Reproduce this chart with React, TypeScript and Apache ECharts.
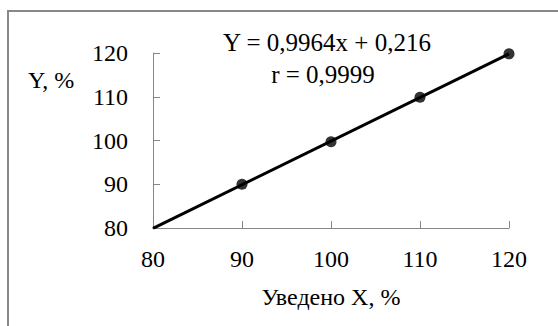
import React, { useEffect, useRef } from "react";
import * as echarts from "echarts";

const xTicks = [80, 90, 100, 110, 120];
const yTicks = [80, 90, 100, 110, 120];
const pointsX = [90, 100, 110, 120];
const pointsY = [90.0, 99.7, 109.9, 119.8];
const trendX = [80, 120];
const trendY = [79.9, 119.8];
const equationText = "Y = 0,9964x + 0,216";
const rText = "r = 0,9999";
const xName = "Уведено X, %";
const yName = "Y, %";

const FONT = "Liberation Serif, Times New Roman, serif";

export default function App() {
  const ref = useRef<HTMLDivElement>(null);
  useEffect(() => {
    if (!ref.current) return;
    const chart = echarts.init(ref.current, undefined, { renderer: "svg" });
    const axisLine = { lineStyle: { color: "#868686", width: 1 } };
    chart.setOption({
      animation: false,
      backgroundColor: "#ffffff",
      grid: { left: 153, right: 49, top: 53, bottom: 98, containLabel: false },
      xAxis: {
        type: "value",
        min: xTicks[0],
        max: xTicks[xTicks.length - 1],
        interval: 10,
        axisLine: { show: true, ...axisLine },
        axisTick: { show: true, inside: true, length: 7, lineStyle: { color: "#868686" } },
        splitLine: { show: false },
        axisLabel: { fontFamily: FONT, fontSize: 24, color: "#000", margin: 19 },
      },
      yAxis: {
        type: "value",
        min: yTicks[0],
        max: yTicks[yTicks.length - 1],
        interval: 10,
        axisLine: { show: true, ...axisLine },
        axisTick: { show: true, inside: true, length: 7, lineStyle: { color: "#868686" } },
        splitLine: { show: false },
        axisLabel: { fontFamily: FONT, fontSize: 24, color: "#000", margin: 25, padding: [6, 0, 0, 0] },
      },
      graphic: [
        {
          type: "rect",
          shape: { x: 8, y: 11, width: 620, height: 400 },
          style: { fill: "none", stroke: "#888888", lineWidth: 2 },
          silent: true,
        },
        {
          type: "text",
          x: 327,
          y: 42,
          style: { text: equationText, fontFamily: FONT, fontSize: 25, fill: "#000", textAlign: "center", textVerticalAlign: "middle" },
        },
        {
          type: "text",
          x: 323,
          y: 74,
          style: { text: rText, fontFamily: FONT, fontSize: 25, fill: "#000", textAlign: "center", textVerticalAlign: "middle" },
        },
        {
          type: "text",
          x: 51,
          y: 80,
          style: { text: yName, fontFamily: FONT, fontSize: 24, fill: "#000", textAlign: "center", textVerticalAlign: "middle" },
        },
        {
          type: "text",
          x: 331,
          y: 297,
          style: { text: xName, fontFamily: FONT, fontSize: 24, fill: "#000", textAlign: "center", textVerticalAlign: "middle" },
        },
      ],
      series: [
        {
          type: "line",
          data: trendX.map((x, i) => [x, trendY[i]]),
          showSymbol: false,
          lineStyle: { color: "#000", width: 3 },
          silent: true,
          z: 2,
        },
        {
          type: "scatter",
          data: pointsX.map((x, i) => [x, pointsY[i]]),
          symbol: "circle",
          symbolSize: 11,
          itemStyle: { color: "#000" },
          z: 3,
        },
      ],
    });
    return () => chart.dispose();
  }, []);
  return (
    <div
      ref={ref}
      style={{ position: "fixed", left: 0, top: 0, width: 558, height: 326 }}
    />
  );
}
